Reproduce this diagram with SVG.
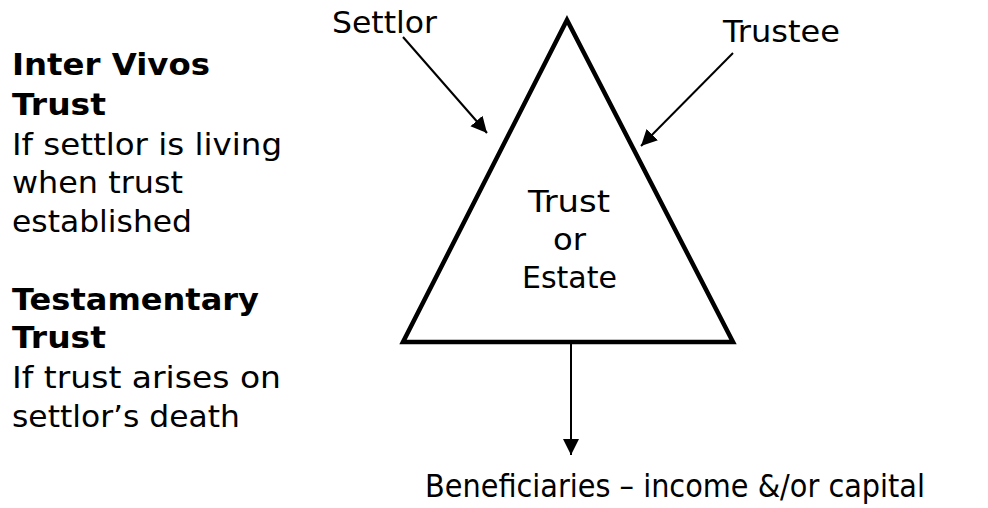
<svg xmlns="http://www.w3.org/2000/svg" width="988" height="508" viewBox="0 0 988 508">
  <style>
    text { font-family: "DejaVu Sans", Verdana, sans-serif; fill: #000; font-size: 30.5px; }
    .head { font-weight: bold; }
    .mid { text-anchor: middle; }
    .big { font-size: 32px; }
    .edge { stroke: #000; stroke-width: 2; fill: none; }
  </style>
  <defs>
    <marker id="arrow" markerUnits="userSpaceOnUse" markerWidth="17" markerHeight="17" viewBox="0 0 17 17" refX="16" refY="8.5" orient="auto">
      <path d="M0,0.5 L16,8.5 L0,16.5 Z" fill="#000"/>
    </marker>
  </defs>
  <rect width="988" height="508" fill="#fff"/>

  <!-- trust types, left column -->
  <g id="inter-vivos">
    <text class="head" x="12" y="75" textLength="198" lengthAdjust="spacingAndGlyphs">Inter Vivos</text>
    <text class="head" x="12" y="115" textLength="94" lengthAdjust="spacingAndGlyphs">Trust</text>
    <text x="12" y="155" textLength="270" lengthAdjust="spacingAndGlyphs">If settlor is living</text>
    <text x="12" y="193" textLength="171" lengthAdjust="spacingAndGlyphs">when trust</text>
    <text x="12" y="232" textLength="180" lengthAdjust="spacingAndGlyphs">established</text>
  </g>
  <g id="testamentary">
    <text class="head" x="12" y="310" textLength="247" lengthAdjust="spacingAndGlyphs">Testamentary</text>
    <text class="head" x="12" y="348" textLength="94" lengthAdjust="spacingAndGlyphs">Trust</text>
    <text x="12" y="388" textLength="269" lengthAdjust="spacingAndGlyphs">If trust arises on</text>
    <text x="12" y="427" textLength="228" lengthAdjust="spacingAndGlyphs">settlor’s death</text>
  </g>

  <!-- central triangle -->
  <g id="trust-estate">
    <polygon points="567,20 733,342 403,342" fill="none" stroke="#000" stroke-width="4.5" stroke-linejoin="miter"/>
    <text class="mid" x="569" y="212" textLength="82" lengthAdjust="spacingAndGlyphs">Trust</text>
    <text class="mid" x="569.5" y="250" textLength="33" lengthAdjust="spacingAndGlyphs">or</text>
    <text class="mid" x="569.5" y="288" textLength="95" lengthAdjust="spacingAndGlyphs">Estate</text>
  </g>

  <g id="settlor">
    <text x="332" y="33" textLength="105" lengthAdjust="spacingAndGlyphs">Settlor</text>
  </g>
  <g id="trustee">
    <text x="723" y="42" textLength="117" lengthAdjust="spacingAndGlyphs">Trustee</text>
  </g>
  <g id="beneficiaries">
    <text class="big" x="425" y="497" textLength="500" lengthAdjust="spacingAndGlyphs">Beneficiaries – income &amp;/or capital</text>
  </g>

  <!-- connectors -->
  <g id="connectors">
    <line class="edge" x1="403" y1="37" x2="487" y2="133" marker-end="url(#arrow)"/>
    <line class="edge" x1="733" y1="53" x2="641" y2="146" marker-end="url(#arrow)"/>
    <line class="edge" x1="571" y1="344" x2="571" y2="455" marker-end="url(#arrow)"/>
  </g>
</svg>
